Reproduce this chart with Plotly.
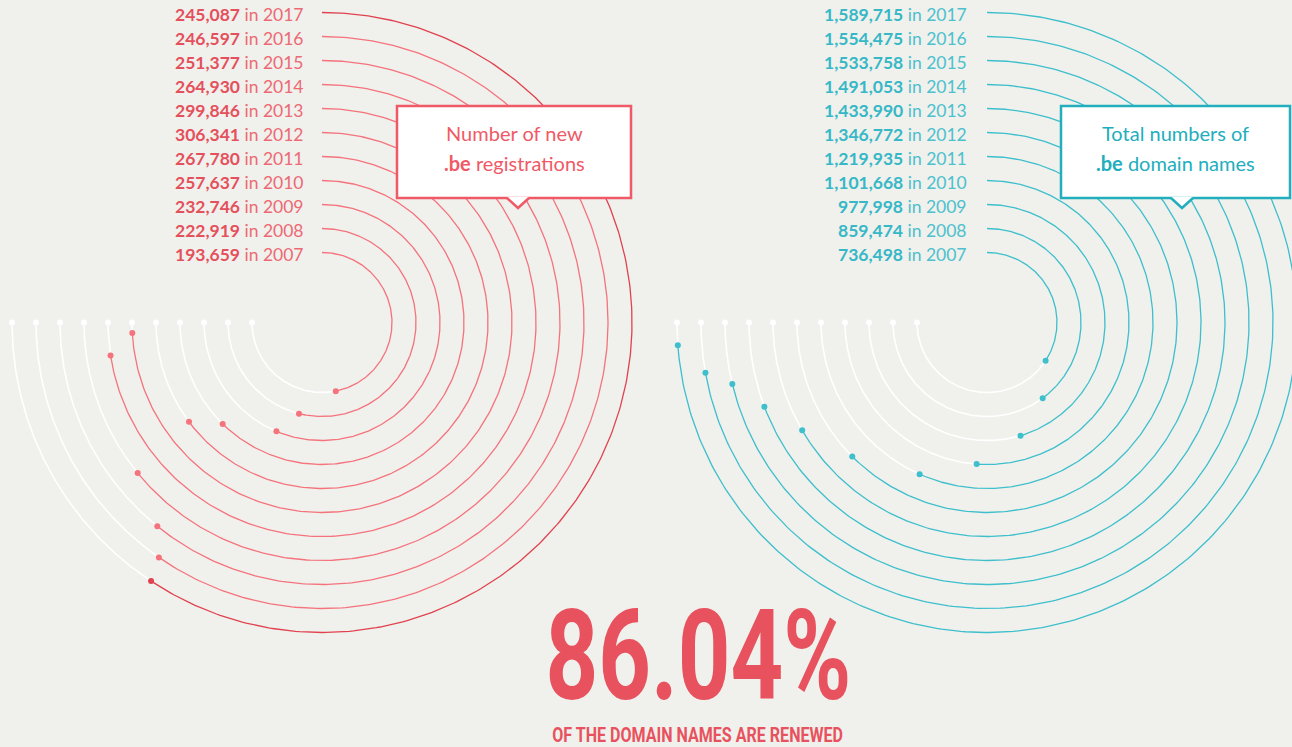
import json
import numpy as np
import plotly.graph_objects as go

years = [2007, 2008, 2009, 2010, 2011, 2012, 2013, 2014, 2015, 2016, 2017]
new_registrations = [193659, 222919, 232746, 257637, 267780, 306341, 299846, 264930, 251377, 246597, 245087]
total_domains = [736498, 859474, 977998, 1101668, 1219935, 1346772, 1433990, 1491053, 1533758, 1554475, 1589715]
renewed_pct = "86.04%"
renewed_caption = "OF THE DOMAIN NAMES ARE RENEWED"

# value that fills the full 270 degree sweep of a ring
new_scale_max = 310000
total_scale_max = 1615000

W, H = 1292, 747
BG = '#f0f0ec'
RED = '#f4737d'
RED_DARK = '#e0424f'
TEAL = '#3dbfcc'
BIG_RED = '#e8525e'
LABEL_FONT = 'Lato, Noto Sans, sans-serif'
BIG_FONT = 'Roboto, DejaVu Sans, sans-serif'

fig = go.Figure()


def ring_xy(cx, cy, r, t):
    # clockwise from 12 o'clock, y axis points down
    return cx + r * np.sin(t), cy - r * np.cos(t)


def add_rings(cx, cy, values, scale_max, colors):
    for k, v in enumerate(values):
        r = 70 + 24 * k
        end = np.radians(270 * v / scale_max)
        full = np.radians(270)

        # the part that is left over, in white
        t = np.linspace(end, full, 200)
        x, y = ring_xy(cx, cy, r, t)
        fig.add_trace(go.Scatter(x=x, y=y, mode='lines', line=dict(color='white', width=1.6),
                                 hoverinfo='skip', showlegend=False))
        x, y = ring_xy(cx, cy, r, np.array([full]))
        fig.add_trace(go.Scatter(x=x, y=y, mode='markers', marker=dict(color='white', size=6),
                                 hoverinfo='skip', showlegend=False))

        # the value itself
        t = np.linspace(0, end, 300)
        x, y = ring_xy(cx, cy, r, t)
        fig.add_trace(go.Scatter(x=x, y=y, mode='lines', line=dict(color=colors[k], width=1.3),
                                 hoverinfo='skip', showlegend=False))
        x, y = ring_xy(cx, cy, r, np.array([end]))
        fig.add_trace(go.Scatter(x=x, y=y, mode='markers', marker=dict(color=colors[k], size=6),
                                 hoverinfo='skip', showlegend=False))


def add_labels(x_right, cy, values, bold_color, color):
    for k, (v, yr) in enumerate(zip(values, years)):
        r = 70 + 24 * k
        fig.add_annotation(x=x_right, y=cy - r + 2, xanchor='right', yanchor='middle', showarrow=False,
                           text=f'<b><span style="color:{bold_color}">{v:,}</span></b> in {yr}',
                           font=dict(family=LABEL_FONT, size=17.5, color=color))


def add_callout(x0, x1, y0, y1, tip_x, color, line1, line2):
    fig.add_shape(type='rect', x0=x0, x1=x1, y0=y0, y1=y1, xref='x', yref='y', layer='above',
                  fillcolor='white', line=dict(color=color, width=2.5))
    fig.add_shape(type='path', xref='x', yref='y', layer='above', fillcolor='white', line=dict(width=0),
                  path=f'M {tip_x - 11} {y1 - 1.3} L {tip_x} {y1 + 10} L {tip_x + 11} {y1 - 1.3} Z')
    fig.add_shape(type='path', xref='x', yref='y', layer='above', fillcolor='rgba(0,0,0,0)',
                  line=dict(color=color, width=2.5),
                  path=f'M {tip_x - 11} {y1} L {tip_x} {y1 + 10} L {tip_x + 11} {y1}')
    cx = (x0 + x1) / 2
    fig.add_annotation(x=cx, y=y0 + 27, text=line1, showarrow=False, yanchor='middle',
                       font=dict(family=LABEL_FONT, size=20, color=color))
    fig.add_annotation(x=cx, y=y0 + 57, text=line2, showarrow=False, yanchor='middle',
                       font=dict(family=LABEL_FONT, size=20, color=color))


left_colors = [RED] * (len(years) - 1) + [RED_DARK]
add_rings(322, 322.5, new_registrations, new_scale_max, left_colors)
add_rings(987, 322.5, total_domains, total_scale_max, [TEAL] * len(years))

add_labels(306, 322.5, new_registrations, '#e4505c', '#ec6a74')
add_labels(969, 322.5, total_domains, '#36b8c7', '#4cc1cd')

add_callout(397, 631, 106, 198, 518, '#f05a66', 'Number of new', '<b>.be</b> registrations')
add_callout(1061, 1290, 106, 198, 1182, '#22aebd', 'Total numbers of', '<b>.be</b> domain names')

fig.add_annotation(x=698, y=656, text=f'<b>{renewed_pct}</b>', showarrow=False, yanchor='middle',
                   borderpad=0, font=dict(family=BIG_FONT, size=126, color=BIG_RED))
fig.add_annotation(x=697, y=734.5, text=f'<b>{renewed_caption}</b>', showarrow=False, yanchor='middle',
                   borderpad=0, font=dict(family=BIG_FONT, size=20.5, color=BIG_RED))

fig.update_layout(
    width=W, height=H, autosize=False,
    margin=dict(l=0, r=0, t=0, b=0),
    paper_bgcolor=BG, plot_bgcolor=BG,
    xaxis=dict(range=[0, W], visible=False, fixedrange=True),
    yaxis=dict(range=[H, 0], visible=False, fixedrange=True),
    showlegend=False,
)

# the headline uses a tall condensed face; no condensed font is installed,
# so the bold text is narrowed horizontally to the width it has in the picture
narrow_to = {renewed_pct: 306, renewed_caption: 291}
post = """
document.body.style.margin = '0px';
document.body.style.overflow = 'hidden';
var widths = %s;
var gd = document.getElementById('{plot_id}');
gd.querySelectorAll('.annotation-text').forEach(function (el) {
    var w = widths[el.textContent];
    if (!w) return;
    var b = el.getBBox();
    var cx = b.x + b.width / 2;
    var f = w / b.width;
    var old = el.getAttribute('transform') || '';
    el.setAttribute('transform', old + ' translate(' + cx + ' 0) scale(' + f + ' 1) translate(' + (-cx) + ' 0)');
});
""" % json.dumps(narrow_to)

fig.write_html("out.html", config={'displayModeBar': False}, post_script=post)
